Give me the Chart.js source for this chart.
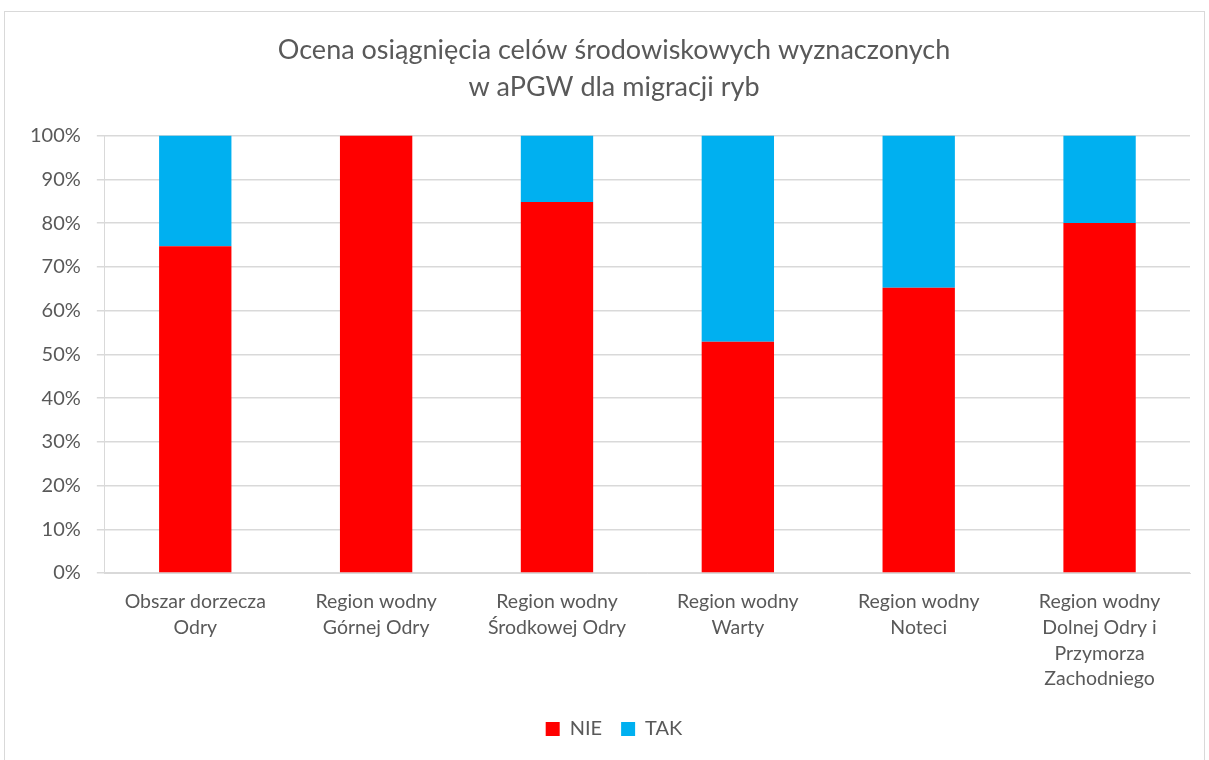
<!DOCTYPE html>
<html>
<head>
<meta charset="utf-8">
<script src="https://cdn.jsdelivr.net/npm/chart.js@4/dist/chart.umd.min.js"></script>
<style>
  html, body { margin:0; padding:0; background:#fff; }
  #box { position:absolute; left:4px; top:11px; width:1201px; height:752px; border:1px solid #d9d9d9; box-sizing:border-box; }
  #chart { display:block; }
</style>
</head>
<body>
<div id="box"><canvas id="chart" width="1199" height="750"></canvas></div>
<script>
const categories = [
  ['Obszar dorzecza', 'Odry'],
  ['Region wodny', 'Górnej Odry'],
  ['Region wodny', 'Środkowej Odry'],
  ['Region wodny', 'Warty'],
  ['Region wodny', 'Noteci'],
  ['Region wodny', 'Dolnej Odry i', 'Przymorza', 'Zachodniego'],
];
const nieValues = [74.7, 100, 84.8, 52.9, 65.2, 80];
const takValues = [25.3, 0, 15.2, 47.1, 34.8, 20];
const yTicks = [0, 10, 20, 30, 40, 50, 60, 70, 80, 90, 100];

const textColor = '#595959';
const gridColor = '#d9d9d9';
const fontFamily = 'Lato, "Open Sans", sans-serif';

// title + legend in the original are centred a bit right of the canvas centre
const shiftBlocks = {
  id: 'shiftBlocks',
  afterLayout(chart) {
    [chart.titleBlock, chart.legend].forEach(b => { if (b) { b.left += 24; b.width -= 24; } });
  },
};

new Chart(document.getElementById('chart').getContext('2d'), {
  type: 'bar',
  data: {
    labels: categories,
    datasets: [
      { label:'NIE', data:nieValues, backgroundColor:'#ff0000', barPercentage:0.4, categoryPercentage:1 },
      { label:'TAK', data:takValues, backgroundColor:'#00b0f0', barPercentage:0.4, categoryPercentage:1 },
    ],
  },
  plugins: [shiftBlocks],
  options: {
    responsive:false, animation:false,
    layout:{ padding:{ left:9, right:14, top:10, bottom:13 } },
    plugins:{
      title:{ display:true, text:['Ocena osiągnięcia celów środowiskowych wyznaczonych', 'w aPGW dla migracji ryb'],
        color:textColor, font:{ family:fontFamily, size:27, weight:'normal', lineHeight:1.4 }, padding:{ top:9, bottom:29 } },
      legend:{ position:'bottom',
        labels:{ color:textColor, font:{ family:fontFamily, size:20 }, boxWidth:14, boxHeight:14, padding:19 } },
      tooltip:{ enabled:false },
    },
    scales:{
      x:{ stacked:true,
        grid:{ display:false },
        border:{ color:gridColor },
        ticks:{ color:textColor, font:{ family:fontFamily, size:19.5, lineHeight:1.32 }, maxRotation:0, padding:8 } },
      y:{ stacked:true, min:0, max:100,
        afterBuildTicks:(axis) => { axis.ticks = yTicks.map(v => ({ value:v })); },
        grid:{ color:gridColor, lineWidth:1.5, tickLength:8 },
        border:{ color:gridColor, display:true },
        ticks:{ color:textColor, font:{ family:fontFamily, size:20 }, padding:16, callback:(v) => v + '%' } },
    },
  },
});
</script>
</body>
</html>
